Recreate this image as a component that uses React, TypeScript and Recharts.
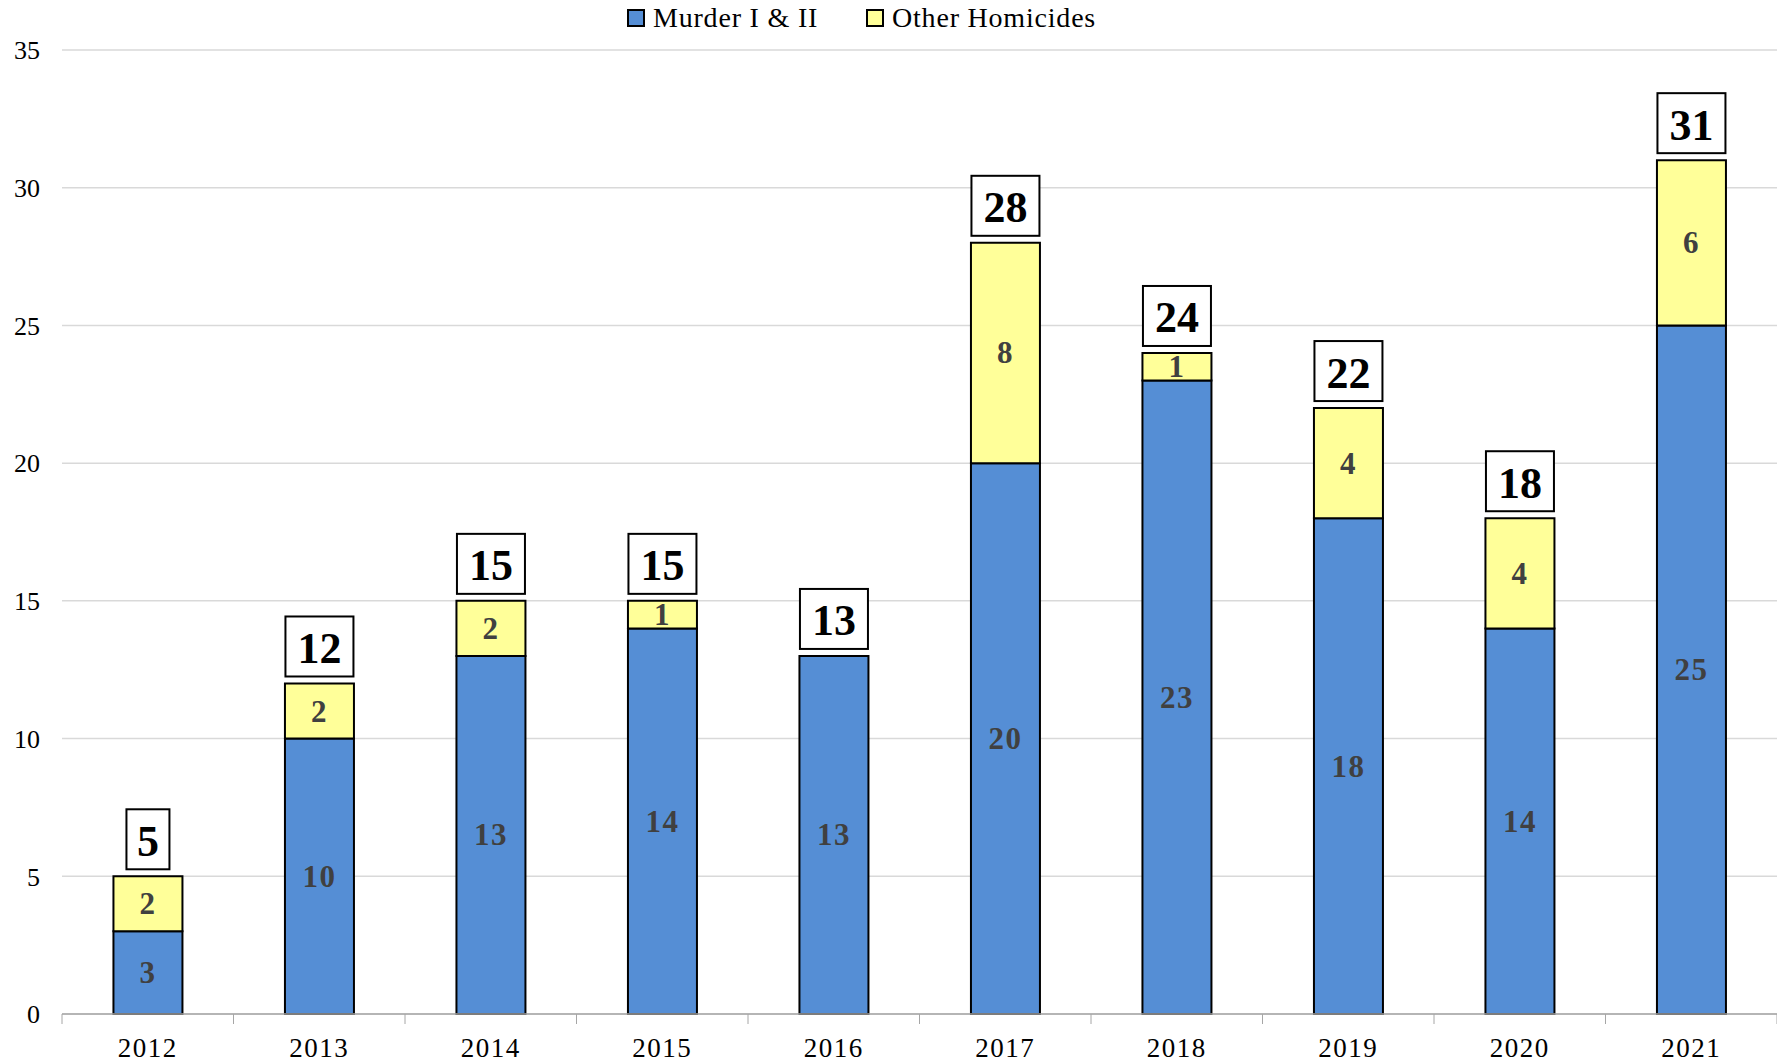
import { Bar, BarChart, CartesianGrid, LabelList, XAxis, YAxis } from "recharts";

const years = ["2012", "2013", "2014", "2015", "2016", "2017", "2018", "2019", "2020", "2021"];
const murder = [3, 10, 13, 14, 13, 20, 23, 18, 14, 25];
const other = [2, 2, 2, 1, 0, 8, 1, 4, 4, 6];
const yTicks = [0, 5, 10, 15, 20, 25, 30, 35];

const W = 1777;
const H = 1062;
const Y_W = 62;
const BAND = (W - Y_W) / years.length;
const FONT = '"Liberation Serif", "Times New Roman", serif';
const BLUE = "#558ed5";
const YELLOW = "#ffff99";

const rows = years.map((y, i) => ({
  year: y,
  murder: murder[i],
  other: other[i],
  total: murder[i] + other[i],
}));

function XTick(props: any) {
  const { x, y, payload, index } = props;
  const last = index === years.length - 1;
  return (
    <g>
      <line x1={x - BAND / 2} x2={x - BAND / 2} y1={y} y2={y + 10} stroke="#a6a6a6" />
      {last && <line x1={x + BAND / 2} x2={x + BAND / 2} y1={y} y2={y + 10} stroke="#a6a6a6" />}
      <text
        x={x}
        y={y + 34}
        textAnchor="middle"
        dominantBaseline="central"
        fontFamily={FONT}
        fontSize={27}
        letterSpacing={1.5}
        fill="#000"
      >
        {payload.value}
      </text>
    </g>
  );
}

function inner(props: any) {
  const vb = props.viewBox ?? props;
  const { x, y, width, height } = vb;
  if (!props.value) return null;
  return (
    <text
      x={x + width / 2}
      y={y + height / 2}
      textAnchor="middle"
      dominantBaseline="central"
      fontFamily={FONT}
      fontWeight="bold"
      fontSize={31}
      letterSpacing={1.5}
      fill="#404040"
    >
      {props.value}
    </text>
  );
}

// sits on the murder bar (never zero), lifted by the "other" segment
function totalLabel(props: any) {
  const vb = props.viewBox ?? props;
  const { x, y, width, height } = vb;
  const r = rows[props.index];
  if (!r) return null;
  const perUnit = height / r.murder;
  const top = y - r.other * perUnit;
  const t = String(r.total);
  const bw = t.length > 1 ? 68 : 43;
  const bh = 60;
  const cx = x + width / 2;
  const bottom = top - 7;
  return (
    <g>
      <rect x={cx - bw / 2} y={bottom - bh} width={bw} height={bh} fill="#fff" stroke="#000" strokeWidth={2} />
      <text
        x={cx}
        y={bottom - bh / 2 + 2}
        textAnchor="middle"
        dominantBaseline="central"
        fontFamily={FONT}
        fontWeight="bold"
        fontSize={44}
        fill="#000"
      >
        {t}
      </text>
    </g>
  );
}

function LegendBox() {
  const item = (color: string, label: string, left: number) => (
    <div style={{ position: "absolute", left, top: 0, display: "flex", alignItems: "center", height: 36 }}>
      <span style={{ width: 14, height: 14, background: color, border: "2px solid #000", marginRight: 8 }} />
      <span style={{ fontFamily: FONT, fontSize: 28, letterSpacing: 0.8, color: "#000", whiteSpace: "nowrap" }}>
        {label}
      </span>
    </div>
  );
  return (
    <>
      {item(BLUE, "Murder I & II", 627)}
      {item(YELLOW, "Other Homicides", 866)}
    </>
  );
}

export default function App() {
  return (
    <div style={{ position: "absolute", left: 0, top: 0, width: W, height: H, background: "#fff" }}>
      <BarChart width={W} height={H} data={rows} margin={{ top: 50, right: 0, bottom: 0, left: 0 }} barCategoryGap="30%">
        <CartesianGrid stroke="#d9d9d9" strokeWidth={1.5} vertical={false} />
        <XAxis
          dataKey="year"
          height={48}
          stroke="#a6a6a6"
          strokeWidth={1.5}
          tickLine={false}
          tickSize={0}
          tickMargin={0}
          tick={<XTick />}
          interval={0}
        />
        <YAxis
          width={Y_W}
          domain={[0, 35]}
          ticks={yTicks}
          axisLine={false}
          tickLine={false}
          tickSize={0}
          tickMargin={22}
          tick={{ fontFamily: FONT, fontSize: 26, fill: "#000" }}
        />
        <Bar dataKey="murder" stackId="a" fill={BLUE} stroke="#000" strokeWidth={2} isAnimationActive={false}>
          <LabelList dataKey="murder" content={inner} />
          <LabelList dataKey="total" content={totalLabel} />
        </Bar>
        <Bar dataKey="other" stackId="a" fill={YELLOW} stroke="#000" strokeWidth={2} isAnimationActive={false}>
          <LabelList dataKey="other" content={inner} />
        </Bar>
      </BarChart>
      <LegendBox />
    </div>
  );
}
